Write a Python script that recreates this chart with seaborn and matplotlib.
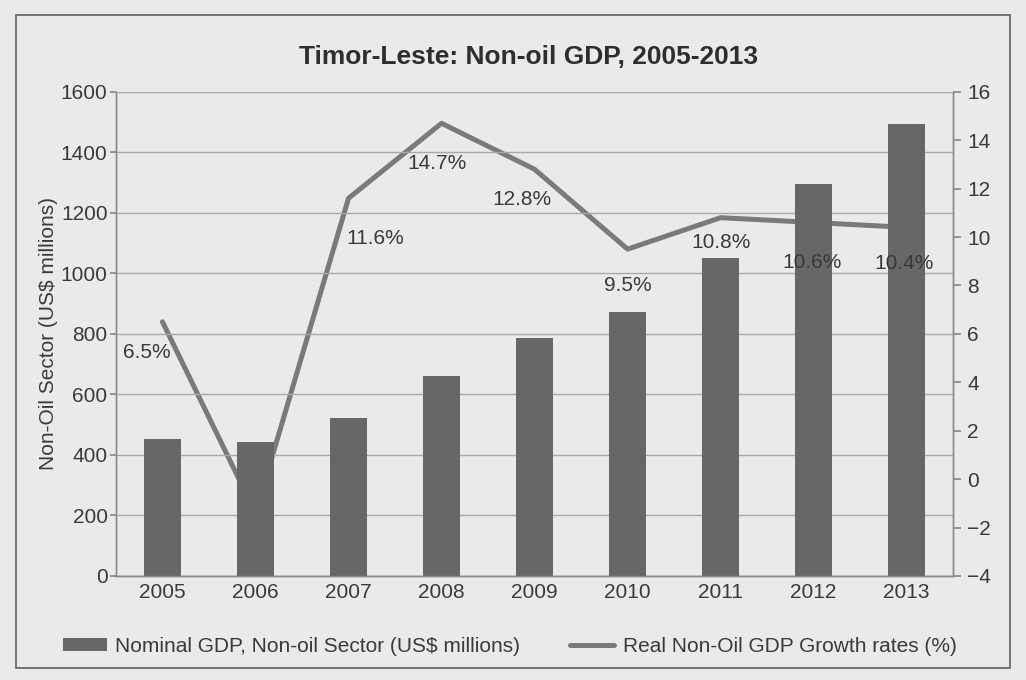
import numpy as np
import seaborn as sns
import matplotlib.pyplot as plt
from matplotlib.patches import Rectangle

# Data
years = ["2005", "2006", "2007", "2008", "2009", "2010", "2011", "2012", "2013"]
nominal_gdp = [452, 442, 522, 662, 786, 872, 1050, 1295, 1495]
growth = [6.5, -1.4, 11.6, 14.7, 12.8, 9.5, 10.8, 10.6, 10.4]
growth_labels = ["6.5%", None, "11.6%", "14.7%", "12.8%", "9.5%", "10.8%", "10.6%", "10.4%"]
left_ticks = list(range(0, 1601, 200))
right_ticks = list(range(-4, 17, 2))

# label offsets in points (dx, dy)
label_offsets = [(-11, -22), None, (19, -29), (-3, -29), (-9, -22), (0, -26), (0, -18), (-1, -29), (-2, -26)]

sns.set_theme(style="white")
plt.rcParams["font.family"] = ["Liberation Sans", "DejaVu Sans"]

bg = "#eaeaea"
bar_color = "#676767"
line_color = "#7a7a7a"
grid_color = "#a8a8a8"
text_color = "#3a3a3a"
fs = 15

fig = plt.figure(figsize=(10.26, 6.8), dpi=100, facecolor=bg)
ax = fig.add_axes([0.113, 0.153, 0.816, 0.712])
ax2 = ax.twinx()

# bars sit on top of the line, as in the original
ax.set_zorder(ax2.get_zorder() + 1)
ax.patch.set_visible(False)
ax2.patch.set_facecolor(bg)

pos = np.arange(len(years))
sns.barplot(x=years, y=nominal_gdp, ax=ax, color=bar_color, width=0.4,
            saturation=1, linewidth=0, edgecolor=bar_color,
            label="Nominal GDP, Non-oil Sector (US$ millions)")
sns.lineplot(x=pos, y=growth, ax=ax2, color=line_color, linewidth=3.6,
             label="Real Non-Oil GDP Growth rates (%)")

ax.set_xlim(-0.5, len(years) - 0.5)
ax.set_ylim(0, 1600)
ax.set_yticks(left_ticks)
ax2.set_ylim(-4, 16)
ax2.set_yticks(right_ticks)

ax.yaxis.grid(True, color=grid_color, linewidth=1.0)
ax.set_axisbelow(True)
ax.set_xlabel("")
ax.set_ylabel("Non-Oil Sector (US$ millions)", fontsize=fs, color=text_color, labelpad=2)

for a in (ax, ax2):
    for s in a.spines.values():
        s.set_color("#8a8a8a")
        s.set_linewidth(1.0)
    a.spines["top"].set_visible(False)
ax.tick_params(axis="y", length=4, color="#8a8a8a", labelsize=fs, labelcolor=text_color, pad=2)
ax.tick_params(axis="x", length=0, labelsize=fs, labelcolor=text_color, pad=5)
ax2.tick_params(axis="y", length=6, color="#8a8a8a", labelsize=fs, labelcolor=text_color, pad=4)

# data labels, drawn on the top axes so they sit over the bars
for i, (lab, off) in enumerate(zip(growth_labels, label_offsets)):
    if lab is None:
        continue
    ax.annotate(lab, xy=(pos[i], growth[i]), xycoords=ax2.transData,
                xytext=off, textcoords="offset points", ha="center", va="center",
                fontsize=fs, color=text_color)

fig.text(0.515, 0.916, "Timor-Leste: Non-oil GDP, 2005-2013", ha="center", va="center",
         fontsize=19, fontweight="bold", color="#2e2e2e")

# legend below the plot
h1, l1 = ax.get_legend_handles_labels()
h2, l2 = ax2.get_legend_handles_labels()
for a in (ax, ax2):
    if a.get_legend():
        a.get_legend().remove()
leg = fig.legend(h1 + h2, l1 + l2, loc="center", bbox_to_anchor=(0.497, 0.049), ncol=2,
                 frameon=False, fontsize=fs, handlelength=2.1, handleheight=0.6,
                 columnspacing=2.4, handletextpad=0.4)
for t in leg.get_texts():
    t.set_color(text_color)

# outer frame
fig.patches.append(Rectangle((16 / 1026, 1 - 668 / 680), (1010 - 16) / 1026, (668 - 15) / 680,
                             transform=fig.transFigure, fill=False, edgecolor="#6a6a6a",
                             linewidth=1.3))

fig.savefig("out.png", dpi=100, facecolor=bg)
